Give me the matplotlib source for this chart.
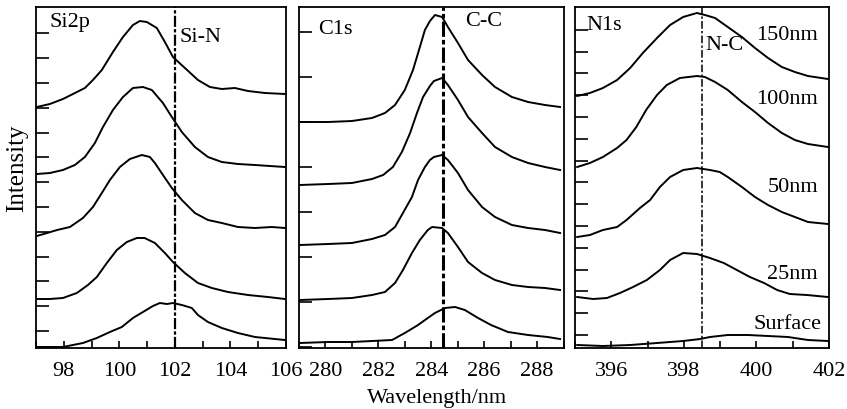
import matplotlib
matplotlib.use("Agg")
import matplotlib.pyplot as plt
from matplotlib.ticker import MultipleLocator, FixedLocator, NullFormatter

plt.rcParams['font.family'] = ['Liberation Serif', 'DejaVu Serif']

# ---------------- data (binding energy, intensity in arbitrary units) ----------------
depth_labels = ["150nm", "100nm", "50nm", "25nm", "Surface"]

# Si2p
si_x_150 = [97.03, 97.5, 97.97, 98.33, 98.76, 99.05, 99.37, 99.77, 100.13, 100.49, 100.74, 100.99, 101.35, 101.64,
            101.93, 102.36, 102.83, 103.26, 103.69, 104.16, 104.63, 105.24, 105.96]
si_y_150 = [241, 244, 249, 254, 260, 268, 278, 296, 311, 323, 327, 326, 320, 306, 291, 280, 268, 261, 259, 260, 257, 255, 254]
si_x_100 = [97.03, 97.5, 97.97, 98.4, 98.76, 99.12, 99.41, 99.77, 100.13, 100.49, 100.85, 101.17, 101.57, 101.89,
            102.25, 102.72, 103.19, 103.69, 104.27, 104.88, 105.96]
si_y_100 = [174, 175, 178, 183, 191, 205, 221, 238, 251, 260, 261, 258, 245, 231, 216, 201, 191, 186, 184, 183, 181]
si_x_50 = [97.03, 97.4, 97.76, 98.22, 98.69, 99.05, 99.37, 99.66, 100.02, 100.38, 100.81, 101.1, 101.28, 101.57, 101.89,
           102.25, 102.72, 103.19, 103.69, 104.27, 104.88, 105.49, 105.96]
si_y_50 = [112, 115, 118, 121, 130, 141, 155, 168, 181, 189, 193, 191, 185, 173, 160, 148, 135, 128, 125, 121, 120, 121, 120]
si_x_25 = [97.03, 97.5, 97.97, 98.47, 98.87, 99.19, 99.55, 99.91, 100.27, 100.63, 100.91, 101.28, 101.64, 101.93,
           102.36, 102.83, 103.33, 103.91, 104.63, 105.35, 105.96]
si_y_25 = [49, 49, 50, 55, 63, 71, 85, 98, 106, 110, 110, 105, 95, 86, 75, 65, 60, 56, 53, 51, 49]
si_x_s = [97.03, 97.97, 98.69, 99.19, 99.66, 100.09, 100.49, 100.85, 101.21, 101.46, 101.71, 101.93, 102.25, 102.61,
          102.83, 103.19, 103.69, 104.27, 104.88, 105.96]
si_y_s = [1, 1, 5, 10, 16, 21, 30, 36, 42, 45, 44, 45, 43, 40, 33, 26, 20, 15, 11, 8]

# C1s
c_x_150 = [279.04, 280.1, 281.0, 281.76, 282.25, 282.63, 283.0, 283.31, 283.57, 283.76, 283.95, 284.14, 284.41, 284.63,
           285.01, 285.39, 285.92, 286.41, 287.05, 287.66, 288.3, 288.87]
c_y_150 = [226, 226, 227, 230, 235, 243, 258, 278, 301, 318, 327, 333, 331, 321, 305, 288, 273, 261, 251, 246, 243, 241]
c_x_100 = [279.04, 280.1, 281.0, 281.76, 282.18, 282.55, 282.89, 283.2, 283.46, 283.69, 283.95, 284.1, 284.41, 284.63,
           285.01, 285.39, 285.92, 286.41, 287.05, 287.66, 288.3, 288.87]
c_y_100 = [163, 164, 165, 169, 173, 181, 196, 215, 235, 251, 262, 267, 270, 263, 248, 231, 215, 201, 191, 185, 181, 178]
c_x_50 = [279.04, 280.1, 281.0, 281.76, 282.25, 282.63, 282.93, 283.27, 283.5, 283.76, 283.95, 284.1, 284.41, 284.63,
          285.01, 285.39, 285.92, 286.41, 287.05, 287.66, 288.3, 288.87]
c_y_50 = [103, 104, 105, 109, 113, 121, 135, 151, 168, 181, 188, 191, 193, 188, 175, 158, 141, 131, 123, 120, 118, 115]
c_x_25 = [279.04, 280.1, 281.0, 281.76, 282.25, 282.63, 282.93, 283.27, 283.57, 283.87, 284.03, 284.41, 284.63, 285.01,
          285.39, 285.92, 286.41, 287.05, 287.66, 288.3, 288.87]
c_y_25 = [48, 49, 50, 53, 56, 65, 78, 95, 108, 118, 121, 120, 115, 101, 86, 75, 68, 63, 61, 60, 58]
c_x_s = [279.04, 280.1, 281.0, 281.76, 282.52, 283.0, 283.5, 283.87, 284.14, 284.52, 284.9, 285.27, 285.77, 286.26,
         286.9, 287.66, 288.4, 288.87]
c_y_s = [5, 6, 6, 7, 8, 15, 23, 30, 35, 40, 41, 38, 30, 23, 16, 13, 11, 9]

# N1s
n_x_150 = [395.06, 395.41, 395.77, 396.16, 396.52, 396.87, 397.26, 397.62, 397.98, 398.36, 398.58, 398.86, 399.21,
           399.6, 399.96, 400.32, 400.7, 401.06, 401.42, 401.97]
n_y_150 = [252, 255, 260, 268, 280, 295, 310, 323, 331, 335, 333, 330, 321, 311, 300, 290, 281, 276, 272, 269]
n_x_100 = [395.06, 395.41, 395.77, 396.16, 396.42, 396.69, 396.96, 397.26, 397.53, 397.89, 398.36, 398.58, 398.86,
           399.21, 399.6, 399.96, 400.32, 400.7, 401.06, 401.42, 401.97]
n_y_100 = [181, 185, 191, 200, 208, 221, 238, 253, 263, 270, 272, 271, 266, 258, 246, 236, 225, 215, 208, 204, 201]
n_x_50 = [395.06, 395.41, 395.77, 396.16, 396.42, 396.79, 397.07, 397.34, 397.62, 397.98, 398.36, 398.72, 398.99,
          399.21, 399.6, 399.96, 400.32, 400.7, 401.06, 401.42, 401.97]
n_y_50 = [111, 113, 118, 121, 128, 140, 148, 161, 171, 178, 180, 178, 176, 171, 161, 151, 143, 136, 131, 126, 124]
n_x_25 = [395.06, 395.5, 395.88, 396.24, 396.6, 396.98, 397.34, 397.62, 397.98, 398.36, 398.72, 399.1, 399.46,
          399.82, 400.21, 400.57, 400.92, 401.39, 401.97]
n_y_25 = [51, 49, 50, 55, 61, 68, 78, 88, 95, 94, 90, 85, 78, 71, 65, 58, 54, 53, 51]
n_x_s = [395.06, 395.77, 396.52, 397.26, 397.98, 398.45, 398.72, 399.21, 399.76, 400.32, 400.87, 401.42, 401.97]
n_y_s = [3, 2, 3, 5, 7, 9, 11, 13, 13, 12, 11, 8, 7]

panel_names = ["Si2p", "C1s", "N1s"]
ref_labels = ["Si-N", "C-C", "N-C"]
ref_positions = [102.0, 284.45, 398.5]
x_limits = [(97, 106), (279, 289), (395, 402)]
major_ticks = [[98, 100, 102, 104, 106], [280, 282, 284, 286, 288], [396, 398, 400, 402]]

curves = [
    [(si_x_150, si_y_150), (si_x_100, si_y_100), (si_x_50, si_y_50), (si_x_25, si_y_25), (si_x_s, si_y_s)],
    [(c_x_150, c_y_150), (c_x_100, c_y_100), (c_x_50, c_y_50), (c_x_25, c_y_25), (c_x_s, c_y_s)],
    [(n_x_150, n_y_150), (n_x_100, n_y_100), (n_x_50, n_y_50), (n_x_25, n_y_25), (n_x_s, n_y_s)],
]

# ---------------- figure ----------------
W, H = 847, 409
fig = plt.figure(figsize=(W / 100, H / 100), dpi=100)

def frac_box(l, r, t, b):
    return [l / W, 1 - b / H, (r - l) / W, (b - t) / H]

boxes = [frac_box(36, 286, 7, 348), frac_box(299, 563.5, 7, 348), frac_box(575, 829, 7, 348)]
ytick_sets = [[17 + 24.8 * k for k in range(13)],
              [1.3 + 45.0 * k for k in range(8)],
              [13 + 21.8 * k for k in range(15)]]
ref_styles = [dict(lw=1.6, ls=(0, (5, 1, 1.5, 1))), dict(lw=2.2, ls=(0, (5, 1, 1.5, 1))),
              dict(lw=1.1, ls=(0, (5, 1.5, 1.5, 1.5)))]
name_pos = [(0.052, 0.955), (0.072, 0.935), (0.043, 0.947)]
ref_pos = [(0.572, 0.912), (0.628, 0.958), (0.512, 0.886)]

for i in range(3):
    ax = fig.add_axes(boxes[i])
    for xs, ys in curves[i]:
        ax.plot(xs, ys, color='black', lw=1.4, solid_joinstyle='round')
    ax.axvline(ref_positions[i], color='black', **ref_styles[i])
    ax.set_xlim(*x_limits[i])
    ax.set_ylim(0, 341)
    ax.xaxis.set_major_locator(FixedLocator(major_ticks[i]))
    ax.xaxis.set_minor_locator(MultipleLocator(1))
    ax.yaxis.set_major_locator(FixedLocator(ytick_sets[i]))
    ax.yaxis.set_major_formatter(NullFormatter())
    ax.tick_params(axis='x', which='both', direction='in', length=5, width=1.2, labelsize=16, pad=10)
    ax.tick_params(axis='y', which='both', direction='in', length=9, width=1.2, left=True, right=False)
    for s in ax.spines.values():
        s.set_linewidth(1.3)
    ax.text(name_pos[i][0], name_pos[i][1], panel_names[i], transform=ax.transAxes,
            fontsize=16, ha='left', va='center')
    ax.text(ref_pos[i][0], ref_pos[i][1], ref_labels[i], transform=ax.transAxes,
            fontsize=16, ha='left', va='center')
    if i == 2:
        label_y = [0.915, 0.730, 0.472, 0.217, 0.070]
        label_x = [0.957, 0.957, 0.957, 0.957, 0.969]
        for lab, lx, ly in zip(depth_labels, label_x, label_y):
            ax.text(lx, ly, lab, transform=ax.transAxes, fontsize=16, ha='right', va='center')

fig.text(17 / W, 1 - 168 / H, "Intensity", rotation=90, fontsize=18, ha='center', va='center')
fig.text(437 / W, 1 - 398 / H, "Wavelength/nm", fontsize=16, ha='center', va='center')

fig.savefig("out.png", dpi=100)
